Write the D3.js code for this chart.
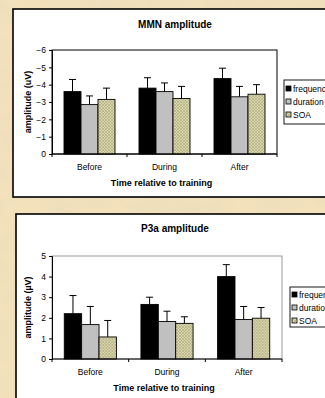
<!DOCTYPE html>
<html>
<head>
<meta charset="utf-8">
<script src="https://cdn.jsdelivr.net/npm/d3@7"></script>
<style>
  html, body { margin: 0; padding: 0; background: #efdcb3; }
  svg { display: block; }
  text { font-family: Arial, "Liberation Sans", sans-serif; }
</style>
</head>
<body>
<div id="chart"></div>
<script>
const categories = ["Before", "During", "After"]
const seriesNames = ["frequency", "duration", "SOA"]

// MMN amplitude (uV), means and mean+error
const mmnValues = [
  [-3.6, -2.85, -3.15],
  [-3.8, -3.6, -3.2],
  [-4.35, -3.3, -3.45]
]
const mmnErrTop = [
  [-4.3, -3.35, -3.8],
  [-4.4, -4.1, -3.9],
  [-4.95, -3.9, -4.0]
]
const mmnTicks = [0, -1, -2, -3, -4, -5, -6]

// P3a amplitude (uV)
const p3aValues = [
  [2.2, 1.67, 1.07],
  [2.65, 1.82, 1.73],
  [4.0, 1.92, 1.98]
]
const p3aErrTop = [
  [3.08, 2.55, 1.87],
  [3.0, 2.32, 2.05],
  [4.58, 2.55, 2.5]
]
const p3aTicks = [0, 1, 2, 3, 4, 5]

const W = 325, H = 398

const svg = d3.select("#chart").append("svg")
  .attr("width", W)
  .attr("height", H)

const defs = svg.append("defs")

// parchment texture
const filter = defs.append("filter").attr("id", "parchment")
  .attr("x", 0).attr("y", 0).attr("width", "100%").attr("height", "100%")
filter.append("feTurbulence")
  .attr("type", "fractalNoise")
  .attr("baseFrequency", "0.035 0.05")
  .attr("numOctaves", 4)
  .attr("seed", 7)
  .attr("result", "noise")
filter.append("feColorMatrix")
  .attr("in", "noise")
  .attr("type", "matrix")
  .attr("values", "0 0 0 0 0.84  0 0 0 0 0.72  0 0 0 0 0.50  0 0 0 -1.5 0.95")
  .attr("result", "tint")
filter.append("feComposite").attr("in", "tint").attr("in2", "SourceGraphic").attr("operator", "in")

svg.append("rect").attr("width", W).attr("height", H).attr("fill", "#f2e1bb")
svg.append("rect").attr("width", W).attr("height", H).attr("fill", "#ffffff").attr("filter", "url(#parchment)")

// SOA hatch pattern
const pat = defs.append("pattern").attr("id", "soa")
  .attr("patternUnits", "userSpaceOnUse")
  .attr("width", 3).attr("height", 3)
pat.append("rect").attr("width", 3).attr("height", 3).attr("fill", "#dcd7ac")
pat.append("path").attr("d", "M0,0 L3,3 M3,0 L0,3").attr("stroke", "#a8a47c").attr("stroke-width", 0.6)

const fills = ["#000000", "#c0c0c0", "url(#soa)"]

function drawPanel(cfg) {
  const g = svg.append("g")

  g.append("rect")
    .attr("x", cfg.box.x).attr("y", cfg.box.y)
    .attr("width", cfg.box.w).attr("height", cfg.box.h)
    .attr("fill", "#ffffff")
    .attr("stroke", "#000")
    .attr("stroke-width", 1.6)

  g.append("text")
    .attr("x", 175).attr("y", cfg.titleY)
    .attr("text-anchor", "middle")
    .attr("font-size", 10)
    .attr("font-weight", "bold")
    .text(cfg.title)

  const x0 = d3.scaleBand().domain(categories)
    .range([cfg.plot.left, cfg.plot.right])
    .paddingInner(0.32).paddingOuter(0.16)
  const xOuter = d3.scaleBand().domain(categories)
    .range([cfg.plot.left, cfg.plot.right])
  const x1 = d3.scaleBand().domain(seriesNames)
    .range([0, x0.bandwidth()])
  const y = d3.scaleLinear().domain(cfg.domain)
    .range([cfg.plot.bottom, cfg.plot.top])

  // plot frame
  g.append("rect")
    .attr("x", cfg.plot.left).attr("y", cfg.plot.top)
    .attr("width", cfg.plot.right - cfg.plot.left)
    .attr("height", cfg.plot.bottom - cfg.plot.top)
    .attr("fill", "none")
    .attr("stroke", cfg.frameColor)
    .attr("stroke-width", 1)

  const groups = g.selectAll(".grp")
    .data(categories)
    .join("g")
      .attr("transform", d => `translate(${x0(d)},0)`)

  groups.each(function (cat, ci) {
    const gg = d3.select(this)
    const rows = seriesNames.map((s, si) => ({ s, si, v: cfg.values[ci][si], e: cfg.err[ci][si] }))

    gg.selectAll(".err")
      .data(rows)
      .join("path")
        .attr("d", d => {
          const cx = x1(d.s) + x1.bandwidth() / 2
          return `M${cx},${y(d.v)}V${y(d.e)}M${cx - 3.5},${y(d.e)}H${cx + 3.5}`
        })
        .attr("stroke", "#000")
        .attr("stroke-width", 1)
        .attr("fill", "none")

    gg.selectAll(".bar")
      .data(rows)
      .join("rect")
        .attr("x", d => x1(d.s))
        .attr("y", d => Math.min(y(0), y(d.v)))
        .attr("width", x1.bandwidth())
        .attr("height", d => Math.abs(y(0) - y(d.v)))
        .attr("fill", d => fills[d.si])
        .attr("stroke", "#000")
        .attr("stroke-width", 0.9)
  })

  // y axis
  const yAxis = g.append("g")
    .attr("transform", `translate(${cfg.plot.left},0)`)
    .call(d3.axisLeft(y).tickValues(cfg.ticks).tickSize(3).tickPadding(3).tickFormat(d3.format("d")))
  yAxis.select(".domain").attr("stroke", "#000")
  yAxis.selectAll("text").attr("font-size", 8.5).attr("fill", "#000")
    .style("font-family", "Arial, 'Liberation Sans', sans-serif")

  // x axis: ticks at category boundaries
  const xAxis = g.append("g")
    .attr("transform", `translate(0,${cfg.plot.bottom})`)
  xAxis.append("line")
    .attr("x1", cfg.plot.left).attr("x2", cfg.plot.right)
    .attr("stroke", "#000").attr("stroke-width", 1.2)
  const bounds = categories.map(c => xOuter(c)).concat([cfg.plot.right])
  xAxis.selectAll(".tk")
    .data(bounds)
    .join("line")
      .attr("x1", d => d).attr("x2", d => d)
      .attr("y1", 0).attr("y2", 3)
      .attr("stroke", "#000")
  xAxis.selectAll(".lbl")
    .data(categories)
    .join("text")
      .attr("x", d => xOuter(d) + xOuter.bandwidth() / 2)
      .attr("y", cfg.catLabelY - cfg.plot.bottom)
      .attr("text-anchor", "middle")
      .attr("font-size", 8.5)
      .text(d => d)

  g.append("text")
    .attr("x", (cfg.plot.left + cfg.plot.right) / 2 - 3)
    .attr("y", cfg.xTitleY)
    .attr("text-anchor", "middle")
    .attr("font-size", 9)
    .attr("font-weight", "bold")
    .text("Time relative to training")

  g.append("text")
    .attr("transform", `translate(${cfg.yTitleX},${(cfg.plot.top + cfg.plot.bottom) / 2}) rotate(-90)`)
    .attr("text-anchor", "middle")
    .attr("font-size", 9)
    .attr("font-weight", "bold")
    .text(cfg.yTitle)

  // legend
  const lg = g.append("g").attr("transform", `translate(${cfg.legend.x},${cfg.legend.y})`)
  lg.append("rect")
    .attr("width", 60).attr("height", cfg.legend.h)
    .attr("fill", "#fff").attr("stroke", "#000").attr("stroke-width", 0.9)
  const items = lg.selectAll(".it")
    .data(seriesNames)
    .join("g")
      .attr("transform", (d, i) => `translate(2,${cfg.legend.first + i * cfg.legend.step})`)
  items.append("rect")
    .attr("x", 0).attr("y", -6)
    .attr("width", 5).attr("height", 5)
    .attr("fill", (d, i) => fills[i])
    .attr("stroke", "#000").attr("stroke-width", 0.8)
  items.append("text")
    .attr("x", 7).attr("y", 0)
    .attr("font-size", 8.5)
    .text(d => d)
}

drawPanel({
  box: { x: 13, y: 9, w: 340, h: 188 },
  title: "MMN amplitude",
  titleY: 28,
  plot: { left: 52, right: 277, top: 50, bottom: 154 },
  domain: [0, -6],
  ticks: mmnTicks,
  values: mmnValues,
  err: mmnErrTop,
  frameColor: "#000",
  catLabelY: 170,
  xTitleY: 186,
  yTitleX: 31,
  yTitle: "amplitude (uV)",
  legend: { x: 284, y: 80, h: 44, first: 12, step: 13 }
})

drawPanel({
  box: { x: 16, y: 214, w: 340, h: 200 },
  title: "P3a amplitude",
  titleY: 232,
  plot: { left: 52, right: 282, top: 256, bottom: 359 },
  domain: [0, 5],
  ticks: p3aTicks,
  values: p3aValues,
  err: p3aErrTop,
  frameColor: "#999",
  catLabelY: 375,
  xTitleY: 391,
  yTitleX: 31,
  yTitle: "amplitude (µV)",
  legend: { x: 290, y: 287, h: 40, first: 11, step: 13 }
})
</script>
</body>
</html>
